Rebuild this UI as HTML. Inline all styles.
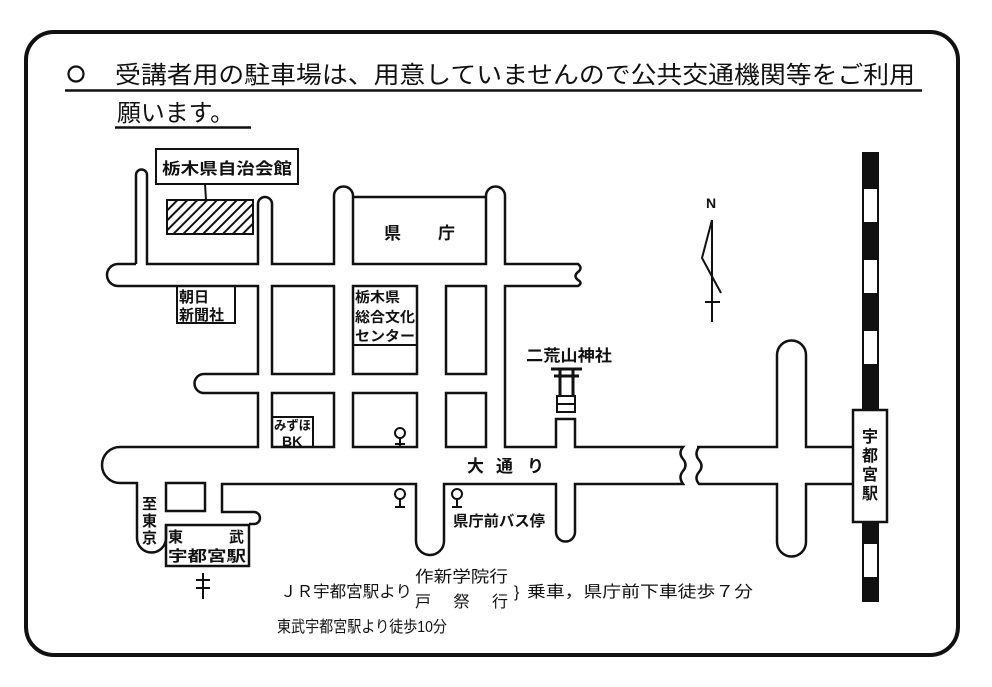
<!DOCTYPE html>
<html><head><meta charset="utf-8"><style>
html,body{margin:0;padding:0;background:#fff;}
svg{display:block;}
text{font-family:"Liberation Sans","Noto Sans CJK JP",sans-serif;fill:#111;}
</style></head><body>
<svg width="992" height="687" viewBox="0 0 992 687" xmlns="http://www.w3.org/2000/svg">
<defs>
<pattern id="h" width="7" height="7" patternUnits="userSpaceOnUse" patternTransform="rotate(45)">
<rect width="7" height="7" fill="#fff"/><rect width="2" height="7" fill="#111"/>
</pattern>
</defs>
<rect x="26" y="32" width="932" height="623" rx="28" fill="none" stroke="#111" stroke-width="4"/>
<!-- header -->
<circle cx="76" cy="74" r="7.5" fill="none" stroke="#111" stroke-width="2.2"/>
<text x="115" y="83" font-size="24" textLength="800" lengthAdjust="spacingAndGlyphs">受講者用の駐車場は、用意していませんので公共交通機関等をご利用</text>
<line x1="65" y1="90.5" x2="922" y2="90.5" stroke="#111" stroke-width="2.5"/>
<text x="117" y="121" font-size="24" textLength="117" lengthAdjust="spacingAndGlyphs">願います。</text>
<line x1="115" y1="127.5" x2="251" y2="127.5" stroke="#111" stroke-width="2.5"/>

<g fill="none" stroke="#111" stroke-width="2.5">
<path d="M136 264 V175 A5.5 5.5 0 0 1 147 175 V264 H258 V204 A7 7 0 0 1 272 204 V264 H334 V196 A9.5 9.5 0 0 1 353 196 V264 H486 V196 A9.5 9.5 0 0 1 505 196 V264 H578 q5 4 0 8 q-5 4 0 8 q5 3 0 6 H505 V447 H556 V419 H575 V447 H683 q-5 6 0 12 q5 6 0 12 q-5 6 0 13 H575 V532 A9.5 9.5 0 0 1 556 532 V484 H444 V541 A14 14 0 0 1 416 541 V484 H222 V512 H254 A6 6 0 0 1 254 524 H249"/>
<path d="M136 264 H118 A11 11 0 0 0 118 286 H258 V374 H204 A9.5 9.5 0 0 0 204 393 H258 V447 H120 A18 18 0 0 0 120 483 H137 V538 A14.5 14.5 0 0 0 166 538 V525"/>
<path d="M697 447 H777 V355 A14.5 14.5 0 0 1 806 355 V447 H853"/>
<path d="M853 484 H806 V542 A14.5 14.5 0 0 1 777 542 V484 H699 q-5 -6 0 -12 q5 -6 0 -12 q-5 -6 0 -13"/>
<rect x="272" y="286" width="62" height="88"/>
<rect x="353" y="286" width="64" height="88"/>
<rect x="446" y="286" width="40" height="88"/>
<rect x="272" y="393" width="62" height="54"/>
<rect x="353" y="393" width="64" height="54"/>
<rect x="446" y="393" width="40" height="54"/>
<rect x="166" y="483" width="39" height="28"/>
<rect x="166" y="525" width="83" height="41"/>
<line x1="353" y1="197" x2="486" y2="197"/>
<rect x="156" y="149" width="142" height="35" stroke-width="2"/>
<path d="M205 184 L206 200" stroke-width="2"/>
<rect x="177" y="286" width="58" height="37" stroke-width="2"/>
<line x1="353" y1="345" x2="417" y2="345" stroke-width="2"/>
<rect x="272" y="417" width="41" height="30" stroke-width="2"/>
<rect x="853" y="410" width="34" height="112" fill="#fff"/>
<g stroke-width="2">
<circle cx="400" cy="433" r="5"/><path d="M400 438 V446 M395 444 H405"/>
<circle cx="400" cy="494" r="5"/><path d="M400 499 V507 M395 507 H405"/>
<circle cx="457" cy="494" r="5"/><path d="M457 499 V507 M452 507 H462"/>
</g>
<path d="M712 220 L702 258 L721 293 M712 220 V322 M705 302 H720" stroke-width="2"/>
<path d="M203 573 V599 M196 580 H210 M196 588 H210" stroke-width="2"/>
<path d="M551 369 H582 M554 376 H579 M560 369 V395 M573 369 V395" stroke-width="3"/>
<rect x="557" y="396" width="18" height="16" stroke-width="2"/>
<line x1="557" y1="404" x2="575" y2="404" stroke-width="2"/>
</g>
<rect x="167" y="200" width="86" height="34" fill="url(#h)" stroke="#111" stroke-width="2"/>
<rect x="862" y="152" width="17" height="258" fill="#111"/>
<rect x="862" y="522" width="17" height="80" fill="#111"/>
<g fill="#fff"><rect x="864" y="189" width="13" height="33"/><rect x="864" y="260" width="13" height="33"/><rect x="864" y="331" width="13" height="33"/><rect x="864" y="544" width="13" height="33"/></g>

<g font-weight="bold">
<text x="162" y="174" font-size="16" textLength="130" lengthAdjust="spacingAndGlyphs">栃木県自治会館</text>
<text x="384" y="239" font-size="17">県</text>
<text x="438" y="239" font-size="17">庁</text>
<text x="179" y="302" font-size="15">朝日</text>
<text x="179" y="320" font-size="15">新聞社</text>
<text x="355" y="302" font-size="14" textLength="45" lengthAdjust="spacingAndGlyphs">栃木県</text>
<text x="355" y="322" font-size="14" textLength="60" lengthAdjust="spacingAndGlyphs">総合文化</text>
<text x="355" y="341" font-size="14" textLength="60" lengthAdjust="spacingAndGlyphs">センター</text>
<text x="274" y="430" font-size="13" textLength="37" lengthAdjust="spacingAndGlyphs">みずほ</text>
<text x="282" y="446" font-size="14">BK</text>
<text x="526" y="361" font-size="16" textLength="86" lengthAdjust="spacingAndGlyphs">二荒山神社</text>
<text x="706" y="208" font-size="14">N</text>
<text x="467" y="472" font-size="17">大</text>
<text x="496" y="472" font-size="17">通</text>
<text x="527" y="472" font-size="17">り</text>
<text x="453" y="526" font-size="15" textLength="92" lengthAdjust="spacingAndGlyphs">県庁前バス停</text>
<text x="142" y="509" font-size="15">至</text>
<text x="142" y="526" font-size="15">東</text>
<text x="142" y="543" font-size="15">京</text>
<text x="168" y="542" font-size="15">東</text>
<text x="229" y="542" font-size="15">武</text>
<text x="168" y="561" font-size="15" textLength="78" lengthAdjust="spacingAndGlyphs">宇都宮駅</text>
<text x="862" y="442" font-size="16">宇</text>
<text x="862" y="461" font-size="16">都</text>
<text x="862" y="480" font-size="16">宮</text>
<text x="862" y="499" font-size="16">駅</text>
</g>
<text x="280" y="597" font-size="16" textLength="132" lengthAdjust="spacingAndGlyphs">ＪＲ宇都宮駅より</text>
<text x="415" y="582" font-size="16" textLength="93" lengthAdjust="spacingAndGlyphs">作新学院行</text>
<text x="415" y="607" font-size="16" textLength="93" lengthAdjust="spacing">戸　祭　行</text>
<text x="514" y="597" font-size="16">}</text>
<text x="527" y="597" font-size="16" textLength="226" lengthAdjust="spacingAndGlyphs">乗車，県庁前下車徒歩７分</text>
<text x="277" y="632" font-size="16" textLength="170" lengthAdjust="spacingAndGlyphs">東武宇都宮駅より徒歩10分</text>
</svg>
</body></html>
